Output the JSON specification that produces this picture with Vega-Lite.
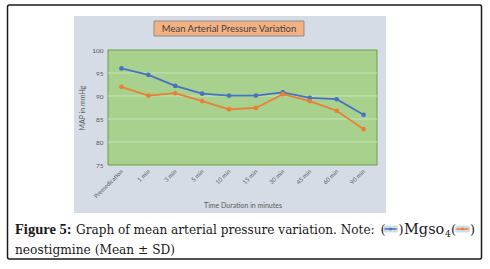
{
  "$schema": "https://vega.github.io/schema/vega-lite/v6.json",
  "width": 269,
  "height": 115,
  "autosize": {"type": "none"},
  "padding": {"left": 108, "top": 50, "right": 113, "bottom": 104},
  "background": "white",
  "config": {"view": {"stroke": null}},
  "resolve": {"scale": {"x": "independent", "y": "independent"}, "axis": {"x": "independent", "y": "independent"}},
  "layer": [
    {
      "data": {"values": [{}]},
      "mark": {"type": "rect", "fill": "white", "stroke": "#1a1a1a", "strokeWidth": 1.5, "cornerRadius": 2},
      "encoding": {
        "x": {"datum": -0.3736, "type": "quantitative", "scale": {"domain": [0, 1]}, "axis": null},
        "x2": {"datum": 1.3885},
        "y": {"datum": 109.78, "type": "quantitative", "scale": {"domain": [75, 100], "zero": false, "nice": false}, "axis": null},
        "y2": {"datum": 54.57}
      }
    },
    {
      "data": {"values": [{}]},
      "mark": {"type": "rect", "fill": "#d6dce5"},
      "encoding": {
        "x": {"datum": -0.1264, "type": "quantitative", "scale": {"domain": [0, 1]}, "axis": null},
        "x2": {"datum": 1.0335},
        "y": {"datum": 107.39, "type": "quantitative", "scale": {"domain": [75, 100], "zero": false, "nice": false}, "axis": null},
        "y2": {"datum": 64.57}
      }
    },
    {
      "data": {"values": [{}]},
      "mark": {"type": "rect", "fill": "#a9d18e", "stroke": "#6b9e48", "strokeWidth": 1},
      "encoding": {
        "x": {"datum": 0, "type": "quantitative", "scale": {"domain": [0, 1]}, "axis": null},
        "x2": {"datum": 1},
        "y": {"datum": 75, "type": "quantitative", "scale": {"domain": [75, 100], "zero": false, "nice": false}, "axis": null},
        "y2": {"datum": 100}
      }
    },
    {
      "data": {"values": [{"v": 80}, {"v": 85}, {"v": 90}, {"v": 95}]},
      "mark": {"type": "rule", "color": "#c9e2b8", "strokeWidth": 1},
      "encoding": {
        "x": {"datum": 0, "type": "quantitative", "scale": {"domain": [0, 1]}, "axis": null},
        "x2": {"datum": 1},
        "y": {"field": "v", "type": "quantitative", "scale": {"domain": [75, 100], "zero": false, "nice": false}, "axis": null}
      }
    },
    {
      "data": {"values": [{}]},
      "mark": {"type": "rect", "fill": "#f4b183", "stroke": "#8c8c8c", "strokeWidth": 1},
      "encoding": {
        "x": {"datum": 0.171, "type": "quantitative", "scale": {"domain": [0, 1]}, "axis": null},
        "x2": {"datum": 0.7286},
        "y": {"datum": 106.3, "type": "quantitative", "scale": {"domain": [75, 100], "zero": false, "nice": false}, "axis": null},
        "y2": {"datum": 103.04}
      }
    },
    {
      "data": {"values": [{}]},
      "mark": {"type": "text", "text": "Mean Arterial Pressure Variation", "font": "Lato", "fontSize": 9.5, "color": "#404040", "align": "center", "baseline": "middle"},
      "encoding": {
        "x": {"datum": 0.4498, "type": "quantitative", "scale": {"domain": [0, 1]}, "axis": null},
        "y": {"datum": 104.67, "type": "quantitative", "scale": {"domain": [75, 100], "zero": false, "nice": false}, "axis": null}
      }
    },
    {
      "data": {"name": "map"},
      "encoding": {
        "x": {
          "field": "time", "type": "nominal",
          "sort": ["Premedication", "1 min", "3 min", "5 min", "10 min", "15 min", "30 min", "45 min", "60 min", "90 min"],
          "axis": {
            "title": "Time Duration in minutes", "labelAngle": -45, "labelAlign": "right", "labelBaseline": "middle",
            "labelFont": "Lato", "labelFontSize": 6, "labelColor": "#595959", "labelPadding": 5,
            "ticks": false, "domain": false, "zindex": 1,
            "titleFont": "Lato", "titleFontSize": 7, "titleFontWeight": "normal", "titleColor": "#595959", "titlePadding": 3
          }
        },
        "y": {
          "field": "map", "type": "quantitative",
          "scale": {"domain": [75, 100], "zero": false, "nice": false},
          "axis": {
            "title": "MAP in mmHg", "values": [75, 80, 85, 90, 95, 100], "grid": false, "ticks": false, "domain": false,
            "labelOverlap": false, "labelFont": "Lato", "labelFontSize": 6.5, "labelColor": "#595959", "labelPadding": 5, "zindex": 1,
            "titleFont": "Lato", "titleFontSize": 7, "titleFontWeight": "normal", "titleColor": "#595959", "titlePadding": 6
          }
        },
        "color": {"field": "group", "type": "nominal", "scale": {"domain": ["Mgso4", "neostigmine"], "range": ["#4472c4", "#ed7d31"]}, "legend": null}
      },
      "layer": [
        {"mark": {"type": "line", "strokeWidth": 1.75}},
        {"mark": {"type": "point", "filled": true, "size": 22, "opacity": 1}}
      ]
    },
    {
      "data": {"values": [{}]},
      "mark": {"type": "text", "text": "Figure 5:", "font": "Liberation Serif", "fontWeight": "bold", "fontSize": 14.5, "color": "#1a1a1a", "align": "left", "baseline": "alphabetic"},
      "encoding": {
        "x": {"datum": -0.3457, "type": "quantitative", "scale": {"domain": [0, 1]}, "axis": null},
        "y": {"datum": 60.0, "type": "quantitative", "scale": {"domain": [75, 100], "zero": false, "nice": false}, "axis": null}
      }
    },
    {
      "data": {"values": [{}]},
      "mark": {"type": "text", "text": "Graph of mean arterial pressure variation. Note:", "font": "DejaVu Serif", "fontSize": 12.1, "color": "#1a1a1a", "align": "left", "baseline": "alphabetic"},
      "encoding": {
        "x": {"datum": -0.119, "type": "quantitative", "scale": {"domain": [0, 1]}, "axis": null},
        "y": {"datum": 60.0, "type": "quantitative", "scale": {"domain": [75, 100], "zero": false, "nice": false}, "axis": null}
      }
    },
    {
      "data": {"values": [{}]},
      "mark": {"type": "text", "text": "(", "font": "DejaVu Serif", "fontSize": 13, "color": "#1a1a1a", "align": "left", "baseline": "alphabetic"},
      "encoding": {
        "x": {"datum": 1.013, "type": "quantitative", "scale": {"domain": [0, 1]}, "axis": null},
        "y": {"datum": 60.0, "type": "quantitative", "scale": {"domain": [75, 100], "zero": false, "nice": false}, "axis": null}
      }
    },
    {
      "data": {"values": [{}]},
      "mark": {"type": "text", "text": ")", "font": "DejaVu Serif", "fontSize": 13, "color": "#1a1a1a", "align": "left", "baseline": "alphabetic"},
      "encoding": {
        "x": {"datum": 1.0799, "type": "quantitative", "scale": {"domain": [0, 1]}, "axis": null},
        "y": {"datum": 60.0, "type": "quantitative", "scale": {"domain": [75, 100], "zero": false, "nice": false}, "axis": null}
      }
    },
    {
      "data": {"values": [{}]},
      "mark": {"type": "text", "text": "Mgso", "font": "DejaVu Serif", "fontSize": 14.5, "color": "#1a1a1a", "align": "left", "baseline": "alphabetic"},
      "encoding": {
        "x": {"datum": 1.1004, "type": "quantitative", "scale": {"domain": [0, 1]}, "axis": null},
        "y": {"datum": 60.0, "type": "quantitative", "scale": {"domain": [75, 100], "zero": false, "nice": false}, "axis": null}
      }
    },
    {
      "data": {"values": [{}]},
      "mark": {"type": "text", "text": "4", "font": "DejaVu Serif", "fontSize": 9, "color": "#1a1a1a", "align": "left", "baseline": "alphabetic"},
      "encoding": {
        "x": {"datum": 1.2528, "type": "quantitative", "scale": {"domain": [0, 1]}, "axis": null},
        "y": {"datum": 59.35, "type": "quantitative", "scale": {"domain": [75, 100], "zero": false, "nice": false}, "axis": null}
      }
    },
    {
      "data": {"values": [{}]},
      "mark": {"type": "text", "text": "(", "font": "DejaVu Serif", "fontSize": 13, "color": "#1a1a1a", "align": "left", "baseline": "alphabetic"},
      "encoding": {
        "x": {"datum": 1.2751, "type": "quantitative", "scale": {"domain": [0, 1]}, "axis": null},
        "y": {"datum": 60.0, "type": "quantitative", "scale": {"domain": [75, 100], "zero": false, "nice": false}, "axis": null}
      }
    },
    {
      "data": {"values": [{}]},
      "mark": {"type": "text", "text": ")", "font": "DejaVu Serif", "fontSize": 13, "color": "#1a1a1a", "align": "left", "baseline": "alphabetic"},
      "encoding": {
        "x": {"datum": 1.3457, "type": "quantitative", "scale": {"domain": [0, 1]}, "axis": null},
        "y": {"datum": 60.0, "type": "quantitative", "scale": {"domain": [75, 100], "zero": false, "nice": false}, "axis": null}
      }
    },
    {
      "data": {"values": [{}]},
      "mark": {"type": "text", "text": "neostigmine (Mean ± SD)", "font": "DejaVu Serif", "fontSize": 12.2, "color": "#1a1a1a", "align": "left", "baseline": "alphabetic"},
      "encoding": {
        "x": {"datum": -0.3457, "type": "quantitative", "scale": {"domain": [0, 1]}, "axis": null},
        "y": {"datum": 55.59, "type": "quantitative", "scale": {"domain": [75, 100], "zero": false, "nice": false}, "axis": null}
      }
    },
    {
      "data": {"values": [{}]},
      "mark": {"type": "rect", "fill": "#d6dce5", "cornerRadius": 2},
      "encoding": {
        "x": {"datum": 1.0223, "type": "quantitative", "scale": {"domain": [0, 1]}, "axis": null},
        "x2": {"datum": 1.0781},
        "y": {"datum": 61.85, "type": "quantitative", "scale": {"domain": [75, 100], "zero": false, "nice": false}, "axis": null},
        "y2": {"datum": 60.33}
      }
    },
    {
      "data": {"values": [{}]},
      "mark": {"type": "rect", "fill": "#d6dce5", "cornerRadius": 2},
      "encoding": {
        "x": {"datum": 1.29, "type": "quantitative", "scale": {"domain": [0, 1]}, "axis": null},
        "x2": {"datum": 1.3457},
        "y": {"datum": 61.85, "type": "quantitative", "scale": {"domain": [75, 100], "zero": false, "nice": false}, "axis": null},
        "y2": {"datum": 60.33}
      }
    },
    {
      "data": {"values": [{}]},
      "mark": {"type": "rule", "color": "#4472c4", "strokeWidth": 1.5},
      "encoding": {
        "x": {"datum": 1.0279, "type": "quantitative", "scale": {"domain": [0, 1]}, "axis": null},
        "x2": {"datum": 1.0725},
        "y": {"datum": 61.09, "type": "quantitative", "scale": {"domain": [75, 100], "zero": false, "nice": false}, "axis": null}
      }
    },
    {
      "data": {"values": [{}]},
      "mark": {"type": "rule", "color": "#ed7d31", "strokeWidth": 1.5},
      "encoding": {
        "x": {"datum": 1.2955, "type": "quantitative", "scale": {"domain": [0, 1]}, "axis": null},
        "x2": {"datum": 1.3401},
        "y": {"datum": 61.09, "type": "quantitative", "scale": {"domain": [75, 100], "zero": false, "nice": false}, "axis": null}
      }
    },
    {
      "data": {"values": [{}]},
      "mark": {"type": "point", "shape": "square", "filled": true, "size": 6, "color": "#4472c4", "opacity": 1},
      "encoding": {
        "x": {"datum": 1.0502, "type": "quantitative", "scale": {"domain": [0, 1]}, "axis": null},
        "y": {"datum": 61.09, "type": "quantitative", "scale": {"domain": [75, 100], "zero": false, "nice": false}, "axis": null}
      }
    },
    {
      "data": {"values": [{}]},
      "mark": {"type": "point", "shape": "square", "filled": true, "size": 6, "color": "#ed7d31", "opacity": 1},
      "encoding": {
        "x": {"datum": 1.3178, "type": "quantitative", "scale": {"domain": [0, 1]}, "axis": null},
        "y": {"datum": 61.09, "type": "quantitative", "scale": {"domain": [75, 100], "zero": false, "nice": false}, "axis": null}
      }
    }
  ],
  "datasets": {
    "map": [
      {"time": "Premedication", "group": "Mgso4", "map": 96.0},
      {"time": "1 min", "group": "Mgso4", "map": 94.6},
      {"time": "3 min", "group": "Mgso4", "map": 92.2},
      {"time": "5 min", "group": "Mgso4", "map": 90.5},
      {"time": "10 min", "group": "Mgso4", "map": 90.1},
      {"time": "15 min", "group": "Mgso4", "map": 90.1},
      {"time": "30 min", "group": "Mgso4", "map": 90.8},
      {"time": "45 min", "group": "Mgso4", "map": 89.6},
      {"time": "60 min", "group": "Mgso4", "map": 89.3},
      {"time": "90 min", "group": "Mgso4", "map": 85.9},
      {"time": "Premedication", "group": "neostigmine", "map": 92.0},
      {"time": "1 min", "group": "neostigmine", "map": 90.1},
      {"time": "3 min", "group": "neostigmine", "map": 90.6},
      {"time": "5 min", "group": "neostigmine", "map": 88.9},
      {"time": "10 min", "group": "neostigmine", "map": 87.1},
      {"time": "15 min", "group": "neostigmine", "map": 87.4},
      {"time": "30 min", "group": "neostigmine", "map": 90.4},
      {"time": "45 min", "group": "neostigmine", "map": 88.9},
      {"time": "60 min", "group": "neostigmine", "map": 86.8},
      {"time": "90 min", "group": "neostigmine", "map": 82.8}
    ]
  }
}
